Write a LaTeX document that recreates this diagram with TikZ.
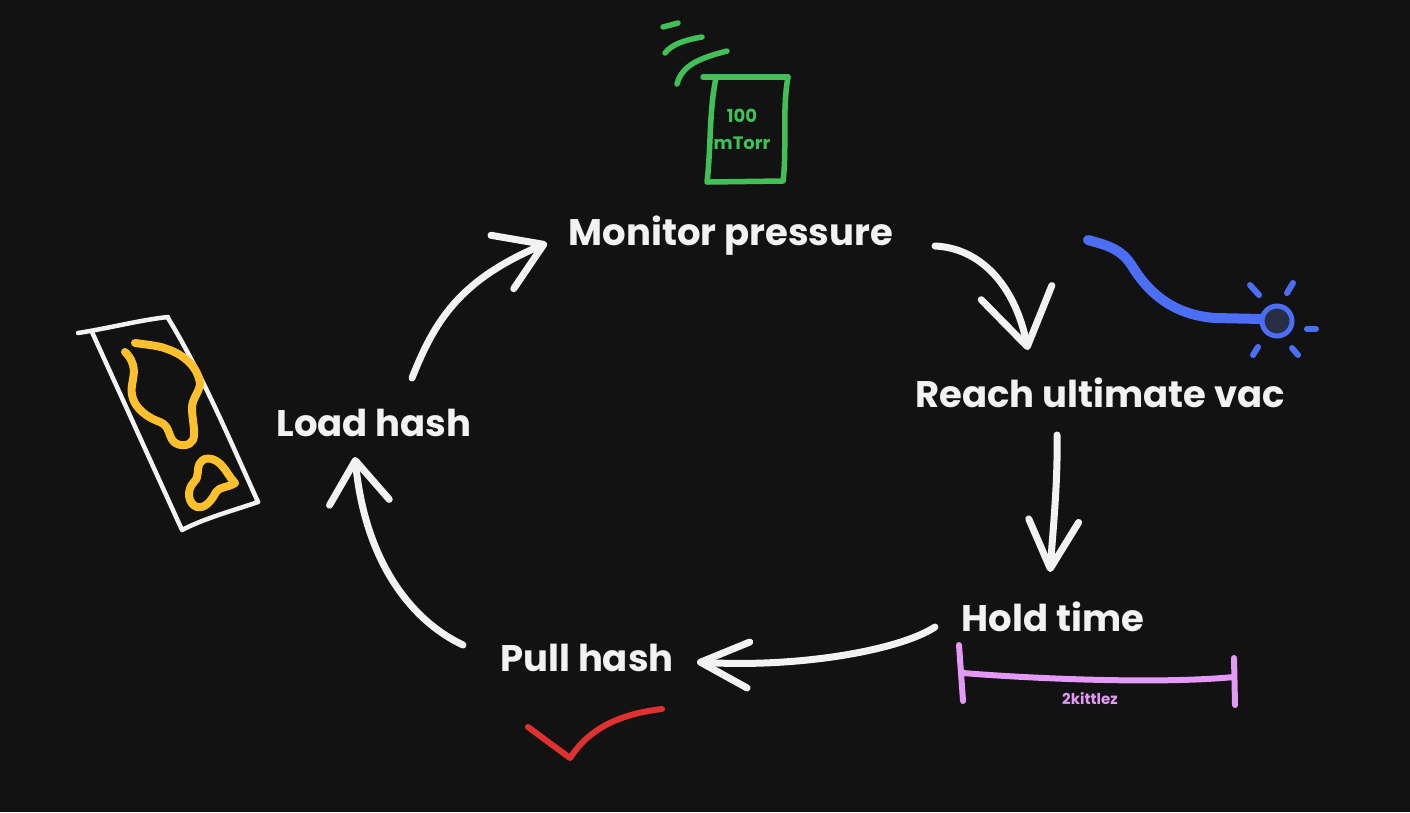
\documentclass[tikz,border=0pt]{standalone}
\usepackage{fontspec}
\setmainfont{Poppins}
\usetikzlibrary{arrows.meta,calc}
\definecolor{bg}{RGB}{18,18,18}
\definecolor{ink}{RGB}{242,242,242}
\definecolor{gauge}{RGB}{64,192,87}
\definecolor{bulb}{RGB}{76,110,245}
\definecolor{bulbin}{RGB}{40,46,68}
\definecolor{span}{RGB}{229,153,247}
\definecolor{tick}{RGB}{224,49,49}
\definecolor{blob}{RGB}{252,192,46}
\tikzset{
  lbl/.style={text=ink, font=\fontsize{37}{42}\selectfont\bfseries, inner sep=0pt},
  flow/.style 2 args={draw=ink, line width=7pt, line cap=round,
     -{Straight Barb[length=#1pt, width=#2pt, round]}},
  pen/.style={line width=#1, line cap=round, line join=round},
}
\begin{document}
\begin{tikzpicture}[x=1pt,y=-1pt]
\fill[bg] (0,0) rectangle (1410,812);
\useasboundingbox (0,0) rectangle (1410,812);

% step labels
\node[lbl] (mon)   at (731,236) {Monitor pressure};
\node[lbl] (reach) at (1100,393) {Reach ultimate vac};
\node[lbl] (hold)  at (1053,617) {Hold time};
\node[lbl] (pull)  at (587,658) {Pull hash};
\node[lbl] (load)  at (374,423) {Load hash};

% connectors
\draw[flow={45}{58}] ($(load)+(38,-45)$) .. controls (435,320) and (460,280) .. ($(mon)+(-184,7)$);
\draw[flow={55}{72}] ($(mon)+(204,10)$) .. controls (980,248) and (1015,285) .. ($(reach)+(-72,-43)$);
\draw[flow={48}{50}] ($(reach)+(-43,42)$) .. controls (1058,480) and (1053,530) .. ($(hold)+(-3,-45)$);
\draw[flow={48}{46}] ($(hold)+(-118,10)$) .. controls (900,650) and (800,668) .. ($(pull)+(110,4)$);
\draw[flow={42}{60}] ($(pull)+(-124,-13)$) .. controls (410,620) and (365,560) .. ($(load)+(-19,34)$);

% pressure gauge (green)
\draw[gauge, pen=5.5pt] (703,77) -- (788,77);
\draw[gauge, pen=5.5pt] (788,77) .. controls (782,110) and (787,150) .. (783,181) -- (708,182);
\draw[gauge, pen=5.5pt] (716,78) .. controls (709,110) and (711,150) .. (707,182);
\draw[gauge, pen=5.5pt] (663,27) -- (678,23);
\draw[gauge, pen=5.5pt] (665,53) .. controls (672,44) and (685,40) .. (702,37);
\draw[gauge, pen=5.5pt] (677,84) .. controls (682,65) and (700,58) .. (727,51);
\node[text=gauge, font=\fontsize{18}{20}\selectfont\bfseries, inner sep=0pt] (g100) at (742,116) {100};
\node[text=gauge, font=\fontsize{18}{20}\selectfont\bfseries, inner sep=0pt] (gtorr) at (742,143) {mTorr};

% vacuum line and bulb (blue)
\draw[bulb, pen=10pt] (1088,240) .. controls (1110,246) and (1122,250) .. (1132,266)
   .. controls (1150,295) and (1175,315) .. (1215,318) -- (1262,319);
\draw[bulb, line width=5pt, fill=bulbin] (1277,321) circle (15);
\draw[bulb, pen=6pt] (1250,285) -- (1259,295);
\draw[bulb, pen=6pt] (1293,283) -- (1287,293);
\draw[bulb, pen=6pt] (1307,329) -- (1316,329);
\draw[bulb, pen=6pt] (1292,348) -- (1298,355);
\draw[bulb, pen=6pt] (1258,347) -- (1253,355);

% hold-time span (pink)
\draw[span, pen=6pt] (959,645) -- (963,701);
\draw[span, pen=6pt] (963,673) .. controls (1010,677) and (1150,685) .. (1234,677);
\draw[span, pen=6pt] (1234,658) -- (1235,705);
\node[text=span, font=\fontsize{15}{17}\selectfont\bfseries, inner sep=0pt] (spanlbl) at (1090,699) {2kittlez};

% check mark (red)
\draw[tick, pen=6pt] (528,727) -- (570,758) .. controls (585,735) and (610,715) .. (662,709);

% hash card (white outline, yellow blobs)
\draw[ink, pen=4.5pt] (78,333) .. controls (110,328) and (140,320) .. (168,317);
\draw[ink, pen=4.5pt] (92,332) -- (182,530) .. controls (205,518) and (235,510) .. (258,502);
\draw[ink, pen=4.5pt] (168,318) .. controls (200,370) and (230,440) .. (258,502);
\draw[blob, pen=8pt] (135,343) .. controls (150,345) and (160,346) .. (167,349)
   .. controls (185,355) and (198,368) .. (200,383)
   .. controls (200,392) and (192,398) .. (192,408)
   .. controls (192,420) and (196,432) .. (193,440)
   .. controls (190,446) and (180,447) .. (174,442)
   .. controls (168,436) and (170,426) .. (160,422)
   .. controls (148,418) and (134,408) .. (132,395)
   .. controls (130,385) and (136,375) .. (133,365)
   .. controls (131,358) and (128,355) .. (125,352);
\draw[blob, pen=8pt] (235,483) .. controls (230,478) and (226,470) .. (223,467)
   .. controls (218,460) and (206,454) .. (200,463)
   .. controls (196,470) and (200,476) .. (194,482)
   .. controls (186,490) and (188,504) .. (197,507)
   .. controls (205,509) and (212,500) .. (216,492)
   .. controls (220,486) and (228,488) .. (235,483);
\end{tikzpicture}
\end{document}
